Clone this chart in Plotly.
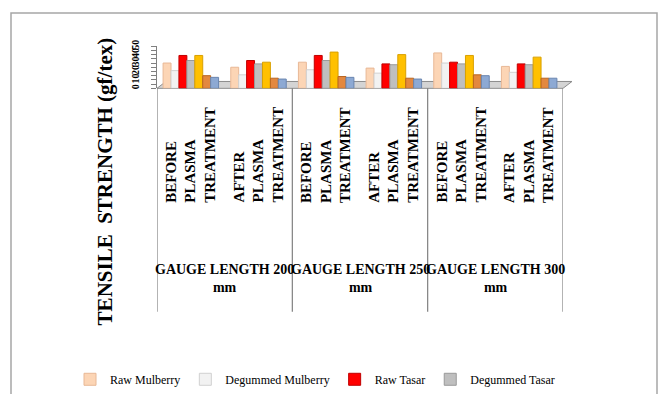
import plotly.graph_objects as go

W, H = 660, 394

gauge_labels = ["GAUGE LENGTH 200<br>mm", "GAUGE LENGTH 250<br>mm", "GAUGE LENGTH 300<br>mm"]
treatments = ["BEFORE<br>PLASMA<br>TREATMENT", "AFTER<br>PLASMA<br>TREATMENT"]

series_names = ["Raw Mulberry", "Degummed Mulberry", "Raw Tasar", "Degummed Tasar",
                "Series 5", "Series 6", "Series 7"]
raw_mulberry = [30, 25, 31, 24, 42, 26]
degummed_mulberry = [21, 16, 22, 18, 30, 19]
raw_tasar = [39, 33, 39, 29, 31, 29]
degummed_tasar = [33, 29, 33, 28, 29, 28]
series5 = [39, 31, 43, 40, 39, 37]
series6 = [15, 12, 14, 12, 16, 12]
series7 = [13, 11, 13, 11, 15, 12]
series_values = [raw_mulberry, degummed_mulberry, raw_tasar, degummed_tasar,
                 series5, series6, series7]
colors = ["#FCD5B5", "#F2F2F2", "#FF0000", "#BFBFBF", "#FFC000", "#E3883F", "#8DA9D3"]
edge_colors = ["#E8B896", "#D0D0D0", "#C00000", "#9A9A9A", "#D9A000", "#B86520", "#6A86B0"]
in_legend = [True, True, True, True, False, False, False]

n_cat = len(gauge_labels) * len(treatments)
xs = list(range(n_cat))

# plot area pixel geometry
px_left, px_right = 157, 563
py_top, py_bottom = 40, 83

def px2x(p):
    return p / W

def py2y(p):
    return 1 - p / H

fig = go.Figure()
for name, vals, c, ec, leg in zip(series_names, series_values, colors, edge_colors, in_legend):
    fig.add_trace(go.Bar(x=xs, y=vals, name=name, marker=dict(color=c, line=dict(color=ec, width=1)),
                         showlegend=leg))

serif = "Liberation Serif, Times New Roman, serif"

annotations = []
# inner category labels (rotated)
for i in xs:
    annotations.append(dict(
        x=i, xref="x", y=py2y(202), yref="paper",
        text="<b>" + treatments[i % 2] + "</b>", textangle=-90, showarrow=False,
        xanchor="center", yanchor="bottom", align="left",
        font=dict(family=serif, size=15, color="#000000")))
# outer labels
for g, lab in enumerate(gauge_labels):
    annotations.append(dict(
        x=2 * g + 0.5, xref="x", y=py2y(277), yref="paper",
        text="<b>" + lab + "</b>", showarrow=False, xanchor="center", yanchor="middle",
        align="center", font=dict(family=serif, size=14, color="#000000")))
# y axis title
annotations.append(dict(
    x=px2x(105), xref="paper", y=py2y(178), yref="paper",
    text="<b>TENSILE  STRENGTH (gf/tex)</b>", textangle=-90, showarrow=False,
    xanchor="center", yanchor="middle", font=dict(family=serif, size=21, color="#000000")))

shapes = []
# outer chart border
shapes.append(dict(type="rect", xref="paper", yref="paper",
                   x0=px2x(11), x1=px2x(657), y0=-0.05, y1=py2y(6),
                   line=dict(color="#A6A6A6", width=1.5), fillcolor="rgba(0,0,0,0)", layer="below"))
# 3D floor
shapes.append(dict(type="path", xref="paper", yref="paper",
                   path="M %f %f L %f %f L %f %f L %f %f Z" % (
                       px2x(157), py2y(83), px2x(563), py2y(83),
                       px2x(572), py2y(76), px2x(166), py2y(76)),
                   fillcolor="#D4D4D4", line=dict(color="#8C8C8C", width=1), layer="below"))
# category dividers
for b in [-0.5, 1.5, 3.5, 5.5]:
    shapes.append(dict(type="line", xref="x", yref="paper", x0=b, x1=b,
                       y0=py2y(83), y1=py2y(311), line=dict(color="#808080", width=1.2)))

fig.update_layout(
    width=W, height=H,
    margin=dict(l=0, r=0, t=0, b=0),
    paper_bgcolor="white", plot_bgcolor="rgba(0,0,0,0)",
    barmode="group", bargap=0.18, bargroupgap=0.0,
    xaxis=dict(domain=[px2x(px_left), px2x(px_right)], range=[-0.5, n_cat - 0.5],
               showticklabels=False, ticks="", showgrid=False, zeroline=False,
               showline=False),
    yaxis=dict(domain=[py2y(py_bottom), py2y(py_top)], range=[0, 50], dtick=10,
               showgrid=False, zeroline=False, showline=True, linecolor="#808080",
               ticks="outside", ticklen=5, tickcolor="#808080",
               minor=dict(dtick=5, ticks="outside", ticklen=5, tickcolor="#808080"),
               tickangle=-90, ticklabelstandoff=8,
               tickfont=dict(family=serif, size=10, color="#000000", weight="bold")),
    legend=dict(orientation="h", x=px2x(70), xanchor="left", y=py2y(380), yanchor="middle",
                font=dict(family=serif, size=12, color="#000000"), bgcolor="rgba(0,0,0,0)"),
    annotations=annotations, shapes=shapes,
)

fig.write_html("out.html")
